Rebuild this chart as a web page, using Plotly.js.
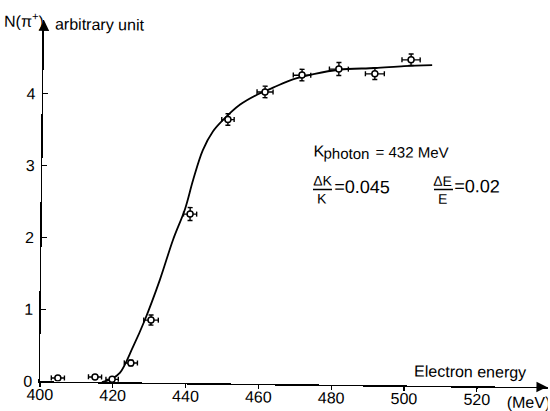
<!DOCTYPE html>
<html><head><meta charset="utf-8">
<script src="https://cdn.plot.ly/plotly-3.0.1.min.js"></script>
<style>
html,body{margin:0;padding:0;background:#fff;overflow:hidden}
#chart{width:550px;height:411px;transform:rotate(0.65deg);transform-origin:275px 205px}
</style>
</head><body><div id="chart"></div>
<script>
// measured points (electron energy in MeV, N(pi+) in arbitrary units)
const energy = [404.9, 415.1, 419.8, 424.9, 430.3, 440.7, 450.8, 460.9, 471.0, 481.1, 491.0, 500.9];
const yieldN = [0.05, 0.07, 0.04, 0.27, 0.87, 2.35, 3.67, 4.06, 4.30, 4.39, 4.33, 4.53];
const energyErr = [1.8, 1.8, 1.7, 1.8, 2.0, 1.8, 1.7, 2.2, 2.4, 2.6, 2.6, 2.5];
const yieldErr = [0.02, 0.02, 0.02, 0.04, 0.07, 0.09, 0.08, 0.08, 0.08, 0.09, 0.08, 0.08];
// drawn curve
const curveE = [417.0, 419.5, 421.9, 425.4, 428.6, 432.6, 436.1, 439.3, 441.4, 444.0, 446.7, 449.4, 454.1, 458.7, 463.1, 468.5, 474.5, 481.1, 491.0, 499.0, 506.7];
const curveN = [0.00, 0.04, 0.13, 0.49, 0.87, 1.43, 1.99, 2.42, 2.82, 3.24, 3.50, 3.66, 3.88, 4.02, 4.12, 4.24, 4.32, 4.38, 4.41, 4.44, 4.46];
// axis ticks
const xTicks = [400, 420, 440, 460, 480, 500, 520];
const xTickText = ['400', '420', '440', '460', '480', '500', '520'];
const yTicks = [0, 1, 2, 3, 4];
const yTickText = ['0', '1', '2', '3', '4'];

const FONT = 'Liberation Sans, Arial, sans-serif';
const L = 42, T = 23, W = 508, H = 361, X0 = 400, X1 = 539.5, Y1 = 5.02;
const th = 0.65 * Math.PI / 180;
// map a reference-image pixel position to paper coordinates (undoing the scan tilt)
function ref(X, Y) {
  const dx = X - 275, dy = Y - 205;
  const xu = 275 + dx * Math.cos(th) + dy * Math.sin(th);
  const yu = 205 - dx * Math.sin(th) + dy * Math.cos(th);
  return [(xu - L) / W, (T + H - yu) / H];
}
function ann(text, X, Y, size, xanchor) {
  const p = ref(X, Y);
  return {x: p[0], y: p[1], xref: 'paper', yref: 'paper', text: text, showarrow: false,
    xanchor: xanchor, yanchor: 'middle', borderpad: 0,
    font: {family: FONT, size: size, color: '#000'}};
}
function bar(Xa, Xb, Y) {
  const a = ref(Xa, Y), b = ref(Xb, Y);
  return {type: 'line', xref: 'paper', yref: 'paper', x0: a[0], y0: a[1], x1: b[0], y1: b[1],
    line: {color: '#000', width: 1.3}};
}

const traces = [
  {x: curveE, y: curveN, type: 'scatter', mode: 'lines',
   line: {color: '#000', width: 1.8, shape: 'spline', smoothing: 1}, hoverinfo: 'skip'},
  {x: energy, y: yieldN, type: 'scatter', mode: 'markers',
   marker: {symbol: 'circle', size: 6, color: '#fff', line: {color: '#000', width: 1.5}},
   error_x: {type: 'data', array: energyErr, visible: true, color: '#000', thickness: 1.4, width: 2.5},
   error_y: {type: 'data', array: yieldErr, visible: true, color: '#000', thickness: 1.4, width: 2.5}}
];

const annotations = [
  ann('N(π<sup>+</sup>)', 45, 20, 16, 'right'),
  ann('arbitrary unit', 54, 24, 16, 'left'),
  ann('Electron energy', 470, 372, 16, 'center'),
  ann('(MeV)', 529, 402, 16, 'center'),
  ann('K', 313, 150.5, 16, 'left'),
  ann('photon', 323, 153.5, 15, 'left'),
  ann('= 432 MeV', 375, 151.5, 15, 'left'),
  ann('ΔK', 322.5, 181, 14, 'center'),
  ann('K', 322.5, 198.5, 14, 'center'),
  ann('=0.045', 333, 186.5, 18, 'left'),
  ann('ΔE', 443, 181, 14, 'center'),
  ann('E', 442.5, 198.5, 14, 'center'),
  ann('=0.02', 453, 186.5, 18, 'left'),
  {x: 1, y: 0, xref: 'paper', yref: 'paper', ax: -10, ay: 0, text: '',
   showarrow: true, arrowhead: 2, arrowsize: 1.4, arrowwidth: 1.5, arrowcolor: '#000'},
  {x: 0, y: 1, xref: 'paper', yref: 'paper', ax: 0, ay: 12, text: '',
   showarrow: true, arrowhead: 2, arrowsize: 1.4, arrowwidth: 1.5, arrowcolor: '#000'}
];

const layout = {
  width: 550, height: 411,
  margin: {l: L, r: 550 - L - W, t: T, b: 411 - T - H, pad: 0},
  paper_bgcolor: '#fff', plot_bgcolor: '#fff',
  showlegend: false,
  font: {family: FONT, size: 16, color: '#000'},
  xaxis: {range: [X0, X1], showline: true, linecolor: '#000', linewidth: 1.5,
    ticks: 'outside', ticklen: 4, tickwidth: 1.2, tickcolor: '#000',
    tickvals: xTicks, ticktext: xTickText, showgrid: false, zeroline: false,
    tickfont: {family: FONT, size: 16, color: '#000'}, ticklabelstandoff: -6},
  yaxis: {range: [0, Y1], showline: true, linecolor: '#000', linewidth: 1.5,
    ticks: 'inside', ticklen: 5, tickwidth: 1.2, tickcolor: '#000',
    tickvals: yTicks, ticktext: yTickText, showgrid: false, zeroline: false,
    tickfont: {family: FONT, size: 16, color: '#000'}, ticklabelstandoff: 3},
  annotations: annotations,
  shapes: [bar(313, 332, 189.5), bar(434, 453, 189.5)]
};

Plotly.newPlot('chart', traces, layout, {displayModeBar: false, staticPlot: true});
</script>
</body></html>
